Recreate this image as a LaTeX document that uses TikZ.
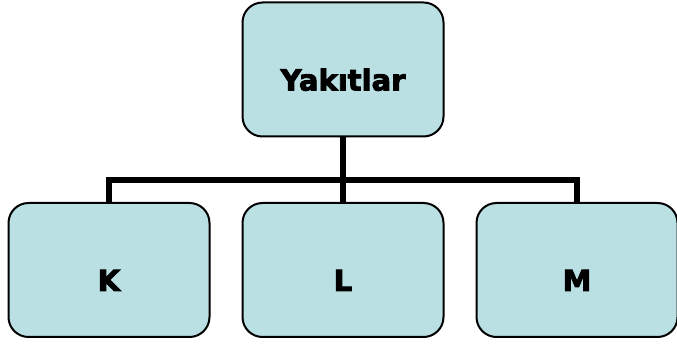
\documentclass[tikz,border=0pt]{standalone}
\usepackage{fontspec}
\setmainfont{DejaVu Sans}[BoldFeatures={FakeBold=3}]
\usepackage{xcolor}
\usepackage{tikz}
\usetikzlibrary{positioning,calc}
\definecolor{boxfill}{HTML}{BBE0E3}

\begin{document}
\begin{tikzpicture}[x=1pt,y=-1pt,
  kutu/.style={draw, line width=2pt, rounded corners=20pt, fill=boxfill,
    minimum width=201pt, minimum height=134pt, inner sep=0pt,
    text height=42pt, text depth=0pt,
    font=\bfseries\fontsize{29}{32}\selectfont},
  hat/.style={draw, line width=6pt}]
\useasboundingbox (0,0) rectangle (677,344);
\node[kutu] (yakit) at (343, 69.5) {Yakıtlar};
\node[kutu] (k) at (109, 270) {K};
\node[kutu] (l) at (343, 270) {L};
\node[kutu] (m) at (577, 270) {M};
\coordinate (bus) at (343, 180);
\draw[hat] (yakit.south) -- (l.north);
\draw[hat] (k.north) |- (bus) -| (m.north);
\end{tikzpicture}
\end{document}
